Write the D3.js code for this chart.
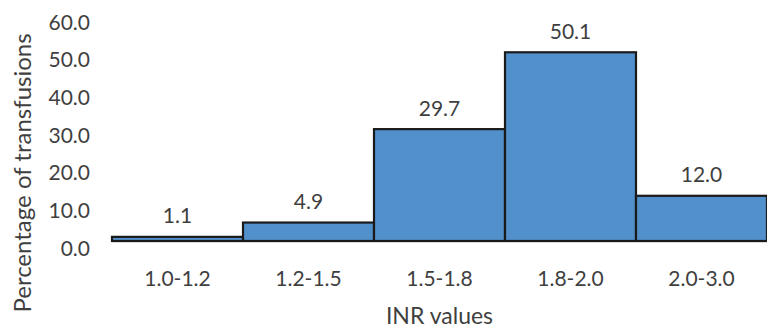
<!DOCTYPE html>
<html>
<head>
<meta charset="utf-8">
<script src="https://cdn.jsdelivr.net/npm/d3@7"></script>
<style>
  html, body { margin: 0; padding: 0; background: #fff; }
  svg text { font-family: Lato, "Open Sans", sans-serif; fill: #3f3f3f; }
</style>
</head>
<body>
<svg id="chart" width="767" height="330"></svg>
<script>
// INR ranges and the share of transfusions in each
const categories = ["1.0-1.2", "1.2-1.5", "1.5-1.8", "1.8-2.0", "2.0-3.0"];
const values = [1.1, 4.9, 29.7, 50.1, 12.0];
const yTicks = [0, 10, 20, 30, 40, 50, 60];
const xTitle = "INR values";
const yTitle = "Percentage of transfusions";

const svg = d3.select("#chart");
const margin = { top: 15, right: 0, bottom: 89, left: 112 };
const W = 767, H = 330;

const x = d3.scaleBand()
  .domain(categories)
  .range([margin.left, W - margin.right])
  .padding(0);

const y = d3.scaleLinear()
  .domain([0, 60])
  .range([H - margin.bottom, margin.top]);

// bars (touching, histogram style)
svg.append("g")
  .selectAll("rect")
  .data(values)
  .join("rect")
  .attr("x", (d, i) => x(categories[i]))
  .attr("y", d => y(d))
  .attr("width", x.bandwidth())
  .attr("height", d => y(0) - y(d))
  .attr("fill", "#5290cb")
  .attr("stroke", "#1a1a1a")
  .attr("stroke-width", 2.2);

// x axis baseline
svg.append("line")
  .attr("x1", margin.left).attr("x2", W)
  .attr("y1", y(0) + 1.5).attr("y2", y(0) + 1.5)
  .attr("stroke", "#d9d9d9").attr("stroke-width", 1);

// value labels above each bar
svg.append("g")
  .selectAll("text")
  .data(values)
  .join("text")
  .attr("x", (d, i) => x(categories[i]) + x.bandwidth() / 2)
  .attr("y", d => y(d) - 22)
  .attr("text-anchor", "middle")
  .attr("dominant-baseline", "central")
  .attr("font-size", 21)
  .text(d => d.toFixed(1));

// y axis (labels only)
const yAxis = d3.axisLeft(y)
  .tickValues(yTicks)
  .tickFormat(d => d.toFixed(1))
  .tickSize(0)
  .tickPadding(0);
const gy = svg.append("g")
  .attr("transform", `translate(${90},0)`)
  .call(yAxis);
gy.select(".domain").remove();
gy.selectAll("text")
  .attr("font-size", 21)
  .attr("dy", "0.67em")
  .style("font-family", "Lato, sans-serif")
  .attr("fill", "#3f3f3f");

// x axis (labels only)
const xAxis = d3.axisBottom(x).tickSize(0).tickPadding(0);
const gx = svg.append("g")
  .attr("transform", `translate(0,${279})`)
  .call(xAxis);
gx.select(".domain").remove();
gx.selectAll("text")
  .attr("font-size", 21)
  .attr("dy", "0.35em")
  .style("font-family", "Lato, sans-serif")
  .attr("fill", "#3f3f3f");

// axis titles
svg.append("text")
  .attr("x", (margin.left + W) / 2)
  .attr("y", 315)
  .attr("text-anchor", "middle")
  .attr("dominant-baseline", "central")
  .attr("font-size", 23)
  .text(xTitle);

svg.append("text")
  .attr("transform", `translate(21,${173}) rotate(-90)`)
  .attr("text-anchor", "middle")
  .attr("dominant-baseline", "central")
  .attr("font-size", 24)
  .text(yTitle);
</script>
</body>
</html>
